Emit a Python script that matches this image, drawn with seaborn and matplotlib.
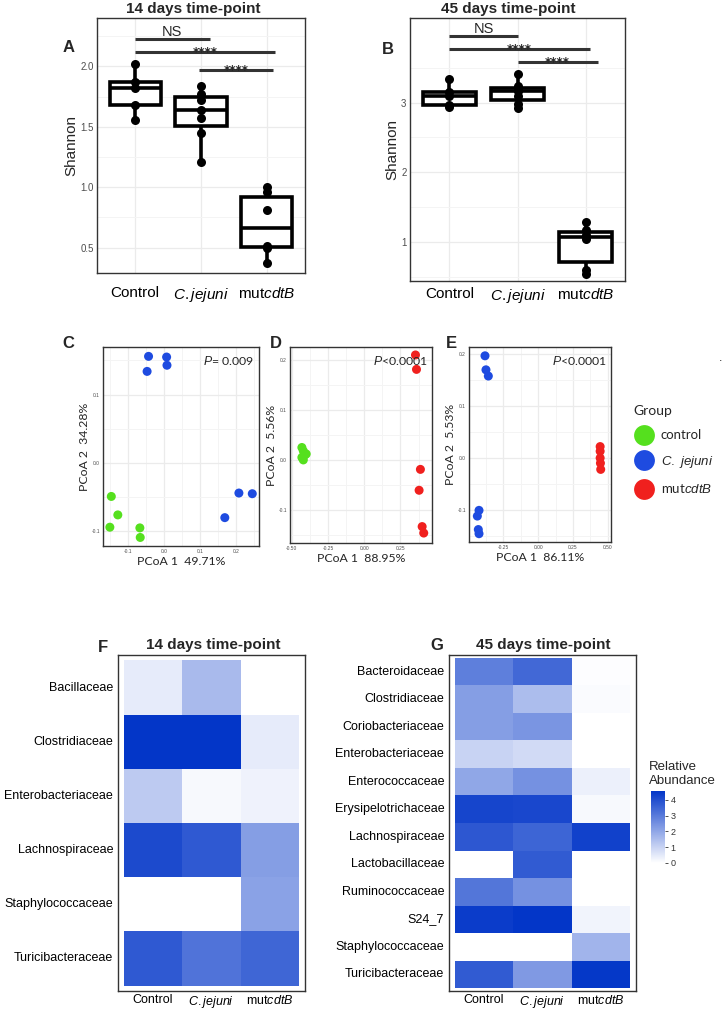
import matplotlib
matplotlib.use("Agg")
import matplotlib.pyplot as plt
import seaborn as sns
import pandas as pd
import numpy as np
from matplotlib.colors import LinearSegmentedColormap
from matplotlib.lines import Line2D
from matplotlib.ticker import FixedLocator, FixedFormatter

# ---------------- data ----------------
groups = ["Control", "C.jejuni", "mutcdtB"]
group_ticklabels = ["Control", r"$\it{C.jejuni}$", r"mut$\it{cdtB}$"]

shannon14_control = [2.02, 1.87, 1.82, 1.68, 1.56]
shannon14_cjejuni = [1.84, 1.77, 1.72, 1.64, 1.57, 1.45, 1.21]
shannon14_mut = [1.00, 0.96, 0.81, 0.51, 0.50, 0.37]

shannon45_control = [3.34, 3.15, 3.10, 2.97, 2.93]
shannon45_cjejuni = [3.41, 3.24, 3.18, 3.16, 3.10, 2.98, 2.92]
shannon45_mut = [1.29, 1.17, 1.10, 1.05, 0.60, 0.55]

# significance bars: (x start, x end, y, label)
sig14 = [(0.0, 1.13, 2.23, "NS"), (0.0, 2.13, 2.116, "****"), (0.97, 2.10, 1.967, "****")]
sig45 = [(0.0, 1.0, 3.955, "NS"), (0.0, 2.06, 3.765, "****"), (1.0, 2.18, 3.573, "****")]

# PCoA C (14 days, control vs C. jejuni)
pcoaC_group = ["C. jejuni"] * 7 + ["control"] * 5
pcoaC_x = [-0.043, 0.007, -0.047, 0.008, 0.207, 0.244, 0.168,
           -0.146, -0.128, -0.150, -0.067, -0.066]
pcoaC_y = [0.156, 0.155, 0.134, 0.143, -0.044, -0.045, -0.080,
           -0.049, -0.076, -0.094, -0.095, -0.109]
# PCoA D (control vs mutcdtB)
pcoaD_group = ["control"] * 6 + ["mutcdtB"] * 6
pcoaD_x = [-0.43, -0.42, -0.41, -0.43, -0.42, -0.40,
           0.354, 0.361, 0.388, 0.379, 0.400, 0.411]
pcoaD_y = [0.025, 0.018, 0.010, 0.005, 0.000, 0.012,
           0.211, 0.182, -0.019, -0.061, -0.134, -0.147]
# PCoA E (C. jejuni vs mutcdtB)
pcoaE_group = ["C. jejuni"] * 7 + ["mutcdtB"] * 5
pcoaE_x = [-0.382, -0.375, -0.358, -0.425, -0.437, -0.430, -0.425,
           0.446, 0.446, 0.446, 0.448, 0.450]
pcoaE_y = [0.197, 0.170, 0.158, -0.101, -0.112, -0.138, -0.146,
           0.022, 0.013, 0.000, -0.010, -0.022]
group_colors = {"control": "#55E01E", "C. jejuni": "#1E4BE0", "mutcdtB": "#F0201E"}

# Heatmaps (relative abundance)
fam14 = ["Bacillaceae", "Clostridiaceae", "Enterobacteriaceae",
         "Lachnospiraceae", "Staphylococcaceae", "Turicibacteraceae"]
ab14_control = [0.45, 4.55, 1.20, 4.10, 0.00, 3.75]
ab14_cjejuni = [1.55, 4.55, 0.15, 3.75, 0.00, 3.15]
ab14_mut = [0.00, 0.45, 0.30, 2.20, 2.10, 3.45]

fam45 = ["Bacteroidaceae", "Clostridiaceae", "Coriobacteriaceae", "Enterobacteriaceae",
         "Enterococcaceae", "Erysipelotrichaceae", "Lachnospiraceae", "Lactobacillaceae",
         "Ruminococcaceae", "S24_7", "Staphylococcaceae", "Turicibacteraceae"]
ab45_control = [2.90, 2.20, 2.20, 1.00, 2.00, 4.20, 3.80, 0.00, 3.10, 4.40, 0.00, 3.70]
ab45_cjejuni = [3.40, 1.50, 2.40, 0.85, 2.50, 4.15, 3.50, 3.70, 2.50, 4.55, 0.00, 2.30]
ab45_mut = [0.05, 0.10, 0.00, 0.00, 0.35, 0.15, 4.30, 0.00, 0.00, 0.25, 1.70, 4.50]

# ---------------- style ----------------
sns.set_style("white")
plt.rcParams["font.family"] = ["Liberation Sans", "DejaVu Sans"]
plt.rcParams["mathtext.fontset"] = "custom"
plt.rcParams["mathtext.rm"] = "Liberation Sans"
plt.rcParams["mathtext.it"] = "Liberation Sans:italic"
PFONT = ["Lato", "DejaVu Sans"]

W, H = 723, 1010
fig = plt.figure(figsize=(W / 100, H / 100), dpi=100)
fig.patch.set_facecolor("white")


def ax_px(x0, y0, x1, y1):
    return fig.add_axes([x0 / W, 1 - y1 / H, (x1 - x0) / W, (y1 - y0) / H])


def ftext(x, y, s, **kw):
    fig.text(x / W, 1 - y / H, s, **kw)


GRID = "#EBEBEB"
GRIDMIN = "#F4F4F4"
BORDER = "#333333"


def bw_frame(ax):
    for sp in ax.spines.values():
        sp.set_visible(True)
        sp.set_color(BORDER)
        sp.set_linewidth(1.0)
    ax.tick_params(axis="both", which="major", length=2.0, width=0.6, color="#333333")
    ax.tick_params(axis="both", which="minor", length=0)
    ax.set_axisbelow(True)


# ---------------- A / B boxplots ----------------
def shannon_panel(ax, vals, yticks, ylim, minor, sigs, tick_fmt, xpad):
    df = pd.DataFrame({
        "group": np.repeat(groups, [len(v) for v in vals]),
        "shannon": np.concatenate(vals),
    })
    sns.boxplot(data=df, x="group", y="shannon", order=groups, ax=ax, color="white",
                linecolor="black", linewidth=2.6, width=0.78, showcaps=False,
                fliersize=0, whis=1.5)
    sns.stripplot(data=df, x="group", y="shannon", order=groups, ax=ax, color="black",
                  size=6.5, jitter=False, zorder=5)
    ax.set_xlim(-0.58, 2.58)
    ax.set_ylim(*ylim)
    ax.yaxis.set_major_locator(FixedLocator(yticks))
    ax.yaxis.set_major_formatter(FixedFormatter([tick_fmt.format(t) for t in yticks]))
    ax.yaxis.set_minor_locator(FixedLocator(minor))
    ax.grid(True, which="major", color=GRID, lw=0.9)
    ax.grid(True, which="minor", axis="y", color=GRIDMIN, lw=0.7)
    ax.set_xticks(range(3))
    ax.set_xticklabels(group_ticklabels, fontsize=11, color="black")
    bw_frame(ax)
    ax.tick_params(axis="y", labelsize=7, labelcolor="#4D4D4D", pad=1, length=1.5)
    ax.tick_params(axis="x", pad=xpad, length=1.5)
    ax.set_xlabel("")
    ax.set_ylabel("Shannon", fontsize=11, labelpad=1)
    for x0, x1, y, lab in sigs:
        ax.plot([x0, x1], [y, y], color="#333333", lw=2.2, clip_on=False,
                solid_capstyle="butt")
        if lab == "NS":
            ax.annotate(lab, xy=((x0 + x1) / 2, y), xytext=(0, 2), textcoords="offset points",
                        ha="center", va="baseline", fontsize=10.5, annotation_clip=False)
        else:
            ax.annotate(lab, xy=((x0 + x1) / 2, y), xytext=(0, -2.6), textcoords="offset points",
                        ha="center", va="baseline", fontsize=8.5, fontweight="bold",
                        family=["DejaVu Sans"], annotation_clip=False)


axA = ax_px(97, 18, 305, 273)
shannon_panel(axA, [shannon14_control, shannon14_cjejuni, shannon14_mut],
              [0.5, 1.0, 1.5, 2.0], (0.29, 2.40), [0.75, 1.25, 1.75, 2.25], sig14, "{:.1f}", 8)
axB = ax_px(410, 18, 625, 281)
shannon_panel(axB, [shannon45_control, shannon45_cjejuni, shannon45_mut],
              [1, 2, 3], (0.445, 4.21), [0.5, 1.5, 2.5, 3.5], sig45, "{:.0f}", 3)

ftext(193, 9, "14 days time-point", ha="center", va="center", fontsize=11, fontweight="bold")
ftext(508, 9, "45 days time-point", ha="center", va="center", fontsize=11, fontweight="bold")
ftext(69, 47, "A", ha="center", va="center", fontsize=12, fontweight="bold")
ftext(388, 50, "B", ha="center", va="center", fontsize=12, fontweight="bold")


# ---------------- C / D / E PCoA ----------------
def pcoa_panel(ax, gx, gy, gg, xlim, ylim, xt, xfmt, yt, yfmt, xlabel, ylabel, ptxt):
    df = pd.DataFrame({"x": gx, "y": gy, "g": gg})
    sns.scatterplot(data=df, x="x", y="y", hue="g", palette=group_colors, s=42,
                    edgecolor="none", legend=False, ax=ax, zorder=3)
    ax.set_xlim(*xlim)
    ax.set_ylim(*ylim)
    ax.xaxis.set_major_locator(FixedLocator(xt))
    ax.xaxis.set_major_formatter(FixedFormatter([xfmt.format(t) for t in xt]))
    ax.yaxis.set_major_locator(FixedLocator(yt))
    ax.yaxis.set_major_formatter(FixedFormatter([yfmt.format(t) for t in yt]))
    xm = [(a + b) / 2 for a, b in zip(xt[:-1], xt[1:])] + [xt[0] - (xt[1] - xt[0]) / 2, xt[-1] + (xt[1] - xt[0]) / 2]
    ym = [(a + b) / 2 for a, b in zip(yt[:-1], yt[1:])] + [yt[0] - (yt[1] - yt[0]) / 2, yt[-1] + (yt[1] - yt[0]) / 2]
    ax.xaxis.set_minor_locator(FixedLocator(xm))
    ax.yaxis.set_minor_locator(FixedLocator(ym))
    ax.grid(True, which="major", color=GRID, lw=0.9)
    ax.grid(True, which="minor", color=GRIDMIN, lw=0.7)
    bw_frame(ax)
    ax.tick_params(axis="both", which="major", labelsize=3.5, labelcolor="#4D4D4D",
                   pad=1, length=1.2)
    ax.set_xlabel(xlabel, fontsize=8.8, family=PFONT, labelpad=1.5)
    ax.set_ylabel(ylabel, fontsize=8.8, family=PFONT, labelpad=1)
    ax.text(0.97, 0.93, ptxt, transform=ax.transAxes, ha="right", va="center",
            fontsize=8.8, family=PFONT)


axC = ax_px(103, 347, 259, 546)
pcoa_panel(axC, pcoaC_x, pcoaC_y, pcoaC_group, (-0.169, 0.2626), (-0.1215, 0.1697),
           [-0.1, 0.0, 0.1, 0.2], "{:.1f}", [-0.1, 0.0, 0.1], "{:.1f}",
           "PCoA 1  49.71%", "PCoA 2  34.28%", r"$\it{P}$= 0.009")
axD = ax_px(290, 347, 432, 543)
pcoa_panel(axD, pcoaD_x, pcoaD_y, pcoaD_group, (-0.512, 0.468), (-0.167, 0.227),
           [-0.5, -0.25, 0.0, 0.25], "{:.2f}", [-0.1, 0.0, 0.1, 0.2], "{:.1f}",
           "PCoA 1  88.95%", "PCoA 2  5.56%", r"$\it{P}$<0.0001")
axE = ax_px(469, 347, 611, 542)
pcoa_panel(axE, pcoaE_x, pcoaE_y, pcoaE_group, (-0.497, 0.524), (-0.162, 0.214),
           [-0.25, 0.0, 0.25, 0.5], "{:.2f}", [-0.1, 0.0, 0.1, 0.2], "{:.1f}",
           "PCoA 1  86.11%", "PCoA 2  5.53%", r"$\it{P}$<0.0001")

ftext(68, 343, "C", ha="center", va="center", fontsize=12, fontweight="bold")
ftext(276, 343, "D", ha="center", va="center", fontsize=12, fontweight="bold")
ftext(451, 343, "E", ha="center", va="center", fontsize=12, fontweight="bold")
ftext(721, 358, ".", ha="center", va="center", fontsize=9)

leg_labels = ["control", r"$\it{C.\ jejuni}$", r"mut$\it{cdtB}$"]
handles = [Line2D([], [], ls="", marker="o", markersize=15, markeredgecolor="none",
                  color=group_colors[k]) for k in ["control", "C. jejuni", "mutcdtB"]]
leg = fig.legend(handles, leg_labels, title="Group", loc="upper left",
                 bbox_to_anchor=(622 / W, 1 - 393 / H), frameon=False,
                 prop={"family": PFONT, "size": 9.5},
                 title_fontproperties={"family": PFONT, "size": 10},
                 labelspacing=0.95, handletextpad=0.45, handlelength=1.6, alignment="left")

# ---------------- F / G heatmaps ----------------
cmap = LinearSegmentedColormap.from_list("wb", ["#FFFFFF", "#0336C8"])
VMIN, VMAX = 0.0, 4.55


def heat_panel(ax, fams, cols, cbar_ax=None):
    df = pd.DataFrame(dict(zip(groups, cols)), index=fams)
    sns.heatmap(df, ax=ax, cmap=cmap, vmin=VMIN, vmax=VMAX, cbar=cbar_ax is not None,
                cbar_ax=cbar_ax, linewidths=0)
    n = len(fams)
    ax.set_xlim(-0.1, 3.1)
    ax.set_ylim(n + 0.1, -0.1)
    ax.set_xticks(np.arange(3) + 0.5)
    ax.set_xticklabels(group_ticklabels, fontsize=9, color="black", rotation=0)
    ax.set_yticks(np.arange(n) + 0.5)
    ax.set_yticklabels(fams, fontsize=9, color="black", rotation=0)
    ax.set_xlabel("")
    ax.set_ylabel("")
    bw_frame(ax)
    ax.tick_params(axis="both", length=2.0, pad=1.5)
    ax.tick_params(axis="x", pad=0.5)


axF = ax_px(118, 655, 305, 991)
heat_panel(axF, fam14, [ab14_control, ab14_cjejuni, ab14_mut])
cax = ax_px(651, 791, 665, 863)
axG = ax_px(449, 655, 636, 991)
heat_panel(axG, fam45, [ab45_control, ab45_cjejuni, ab45_mut], cbar_ax=cax)
cax.tick_params(labelsize=6.5, length=2, width=0.6, colors="#333333", pad=2)
cax.set_yticks([0, 1, 2, 3, 4])
for sp in cax.spines.values():
    sp.set_visible(False)
cb = axG.collections[0].colorbar
if cb is not None:
    cb.outline.set_visible(False)

ftext(103, 648, "F", ha="center", va="center", fontsize=12, fontweight="bold")
ftext(213, 645, "14 days time-point", ha="center", va="center", fontsize=11, fontweight="bold")
ftext(437, 645, "G", ha="center", va="center", fontsize=12, fontweight="bold")
ftext(543, 645, "45 days time-point", ha="center", va="center", fontsize=11, fontweight="bold")
ftext(649, 774, "Relative\nAbundance", ha="left", va="center", fontsize=9.5, linespacing=1.3)

fig.savefig("out.png", dpi=100, facecolor="white")
